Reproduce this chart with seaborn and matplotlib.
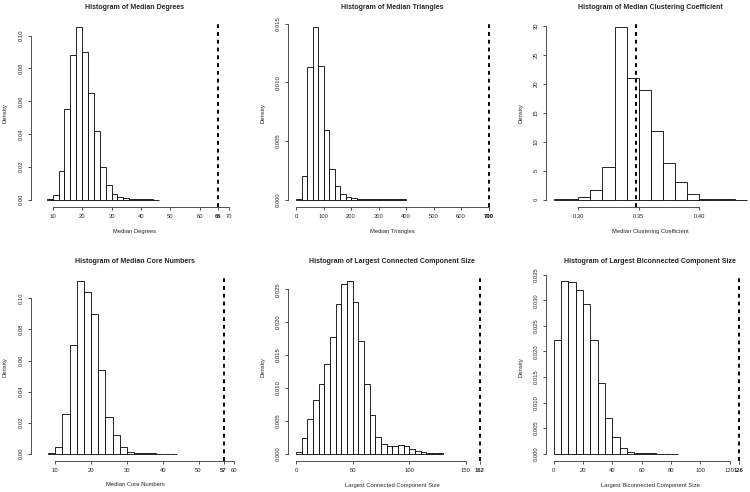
import numpy as np
import pandas as pd
import seaborn as sns
import matplotlib.pyplot as plt

# ---- data (densities per bin) ----
deg_edges = [8, 10, 12, 14, 16, 18, 20, 22, 24, 26, 28, 30, 32, 34, 36, 38, 40, 42, 44, 46]
deg_density = [0.0002, 0.003, 0.0175, 0.055, 0.088, 0.105, 0.090, 0.065, 0.042, 0.020,
               0.009, 0.0035, 0.0015, 0.0008, 0.0004, 0.0002, 0.0001, 0.0001, 0.00005]
deg_obs = 66

tri_edges = [0, 20, 40, 60, 80, 100, 120, 140, 160, 180, 200, 220, 240, 260, 280, 300,
             320, 340, 360, 380, 400]
tri_density = [0.00002, 0.002, 0.0113, 0.0147, 0.0114, 0.0059, 0.0026, 0.0012, 0.0005,
               0.00025, 0.0001, 0.00008, 0.00005, 0.00003, 0.00002, 0.00002, 0.00001,
               0.00001, 0.00001, 0.00001]
tri_obs = 700

clu_edges = [0.28, 0.29, 0.30, 0.31, 0.32, 0.33, 0.34, 0.35, 0.36, 0.37, 0.38, 0.39,
             0.40, 0.41, 0.42, 0.43, 0.44]
clu_density = [0.02, 0.15, 0.5, 1.7, 5.7, 29.8, 21.0, 18.9, 11.8, 6.4, 3.0, 1.0, 0.15,
               0.05, 0.02, 0.01]
clu_obs = 0.348

core_edges = [8, 10, 12, 14, 16, 18, 20, 22, 24, 26, 28, 30, 32, 34, 36, 38, 40, 42, 44]
core_density = [0.0003, 0.0045, 0.0255, 0.070, 0.111, 0.104, 0.090, 0.054, 0.0235, 0.012,
                0.0045, 0.0012, 0.0006, 0.0002, 0.0001, 0.00005, 0.00003, 0.00002]
core_obs = 57

lcc_edges = [0, 5, 10, 15, 20, 25, 30, 35, 40, 45, 50, 55, 60, 65, 70, 75, 80, 85, 90,
             95, 100, 105, 110, 115, 120, 125, 130]
lcc_density = [0.0003, 0.0024, 0.0052, 0.0081, 0.0106, 0.0136, 0.0177, 0.0228, 0.0258,
               0.0262, 0.0231, 0.0171, 0.0106, 0.0058, 0.0026, 0.0015, 0.0012, 0.0012,
               0.0013, 0.0011, 0.0007, 0.0004, 0.0002, 0.0001, 0.00005, 0.00002]
lcc_obs = 162

bcc_edges = [0, 5, 10, 15, 20, 25, 30, 35, 40, 45, 50, 55, 60, 65, 70, 75, 80, 85]
bcc_density = [0.0222, 0.0337, 0.0335, 0.0321, 0.0293, 0.0222, 0.0138, 0.0069, 0.0032,
               0.0011, 0.0004, 0.00015, 0.00008, 0.00004, 0.00002, 0.00001, 0.00001]
bcc_obs = 126

titles = ["Histogram of Median Degrees", "Histogram of Median Triangles",
          "Histogram of Median Clustering Coefficient", "Histogram of Median Core Numbers",
          "Histogram of Largest Connected Component Size",
          "Histogram of Largest Biconnected Component Size"]
xlabels = ["Median Degrees", "Median Triangles", "Median Clustering Coefficient",
           "Median Core Numbers", "Largest Connected Component Size",
           "Largest Biconnected Component Size"]

xticks = [[10, 20, 30, 40, 50, 60, 70], [0, 100, 200, 300, 400, 500, 600, 700],
          [0.30, 0.35, 0.40], [10, 20, 30, 40, 50, 60], [0, 50, 100, 150],
          [0, 20, 40, 60, 80, 100, 120]]
xticklabels = [["10", "20", "30", "40", "50", "60", "70"],
               ["0", "100", "200", "300", "400", "500", "600", "700"],
               ["0.30", "0.35", "0.40"], ["10", "20", "30", "40", "50", "60"],
               ["0", "50", "100", "150"], ["0", "20", "40", "60", "80", "100", "120"]]
obs_labels = ["66", "700", None, "57", "162", "126"]
yticks = [[0, 0.02, 0.04, 0.06, 0.08, 0.10], [0, 0.005, 0.010, 0.015],
          [0, 5, 10, 15, 20, 25, 30], [0, 0.02, 0.04, 0.06, 0.08, 0.10],
          [0, 0.005, 0.010, 0.015, 0.020, 0.025],
          [0, 0.005, 0.010, 0.015, 0.020, 0.025, 0.030, 0.035]]
yticklabels = [["0.00", "0.02", "0.04", "0.06", "0.08", "0.10"],
               ["0.000", "0.005", "0.010", "0.015"],
               ["0", "5", "10", "15", "20", "25", "30"],
               ["0.00", "0.02", "0.04", "0.06", "0.08", "0.10"],
               ["0.000", "0.005", "0.010", "0.015", "0.020", "0.025"],
               ["0.000", "0.005", "0.010", "0.015", "0.020", "0.025", "0.030", "0.035"]]

panels = [(deg_edges, deg_density, deg_obs), (tri_edges, tri_density, tri_obs),
          (clu_edges, clu_density, clu_obs), (core_edges, core_density, core_obs),
          (lcc_edges, lcc_density, lcc_obs), (bcc_edges, bcc_density, bcc_obs)]

# x limits of each plot region (R style, 4% padding already included)
xlims = [(2.63, 73.3), (-28, 728), (0.2732, 0.4455), (3.21, 61.3), (-6.8, 176.8),
         (-5.25, 136.5)]

# ---- layout in pixels ----
W, H = 750, 492
col_left = [31, 288.3, 546]
row_top = [20.5, 274.5]
pw, ph = 208, 186

sns.set_style("ticks")
plt.rcParams["font.family"] = ["Liberation Sans", "DejaVu Sans"]

fig = plt.figure(figsize=(7.5, 4.92), dpi=100)

for i, (edges, dens, obs) in enumerate(panels):
    r, c = divmod(i, 3)
    ax = fig.add_axes([col_left[c] / W, 1 - (row_top[r] + ph) / H, pw / W, ph / H])
    e = np.array(edges, dtype=float)
    df = pd.DataFrame({"mid": (e[:-1] + e[1:]) / 2, "dens": dens})
    sns.histplot(data=df, x="mid", weights="dens", bins=list(edges), stat="count", ax=ax,
                 fill=True, facecolor="white", edgecolor="black", linewidth=0.6)
    ax.axvline(obs, color="black", lw=1.4, dashes=(2.0, 2.0))

    ymax = max(dens)
    ax.set_ylim(-0.04 * ymax, 1.04 * ymax)
    ax.set_xlim(*xlims[i])

    ticks = list(xticks[i])
    labels = list(xticklabels[i])
    if obs_labels[i] is not None:
        ticks.append(obs)
        labels.append(obs_labels[i])
    ax.set_xticks(ticks)
    ax.set_xticklabels(labels)
    if obs_labels[i] is not None:
        ax.get_xticklabels()[-1].set_fontweight("bold")
    ax.set_yticks(yticks[i])
    ax.set_yticklabels(yticklabels[i])

    sns.despine(ax=ax)
    ax.spines["bottom"].set_bounds(xticks[i][0], xticks[i][-1])
    ax.spines["left"].set_bounds(yticks[i][0], yticks[i][-1])
    for s in ["bottom", "left"]:
        ax.spines[s].set_linewidth(0.6)
        ax.spines[s].set_color("#333333")
    ax.tick_params(length=2.5, width=0.6, pad=2.6, labelsize=4.2, color="#333333")
    ax.tick_params(axis="y", labelrotation=90)
    for lab in ax.get_yticklabels():
        lab.set_va("center")

    ax.set_title(titles[i], fontsize=5.0, fontweight="bold", y=1 + 11.5 / ph, pad=0)
    ax.set_xlabel(xlabels[i], fontsize=4.2)
    ax.set_ylabel("Density", fontsize=4.2)
    ax.xaxis.label.set_va("center")
    ax.yaxis.label.set_va("center")
    ax.xaxis.set_label_coords(0.5, -24.5 / ph)
    ax.yaxis.set_label_coords(-25.5 / pw, 0.5)

fig.savefig("out.png", dpi=100, facecolor="white")
